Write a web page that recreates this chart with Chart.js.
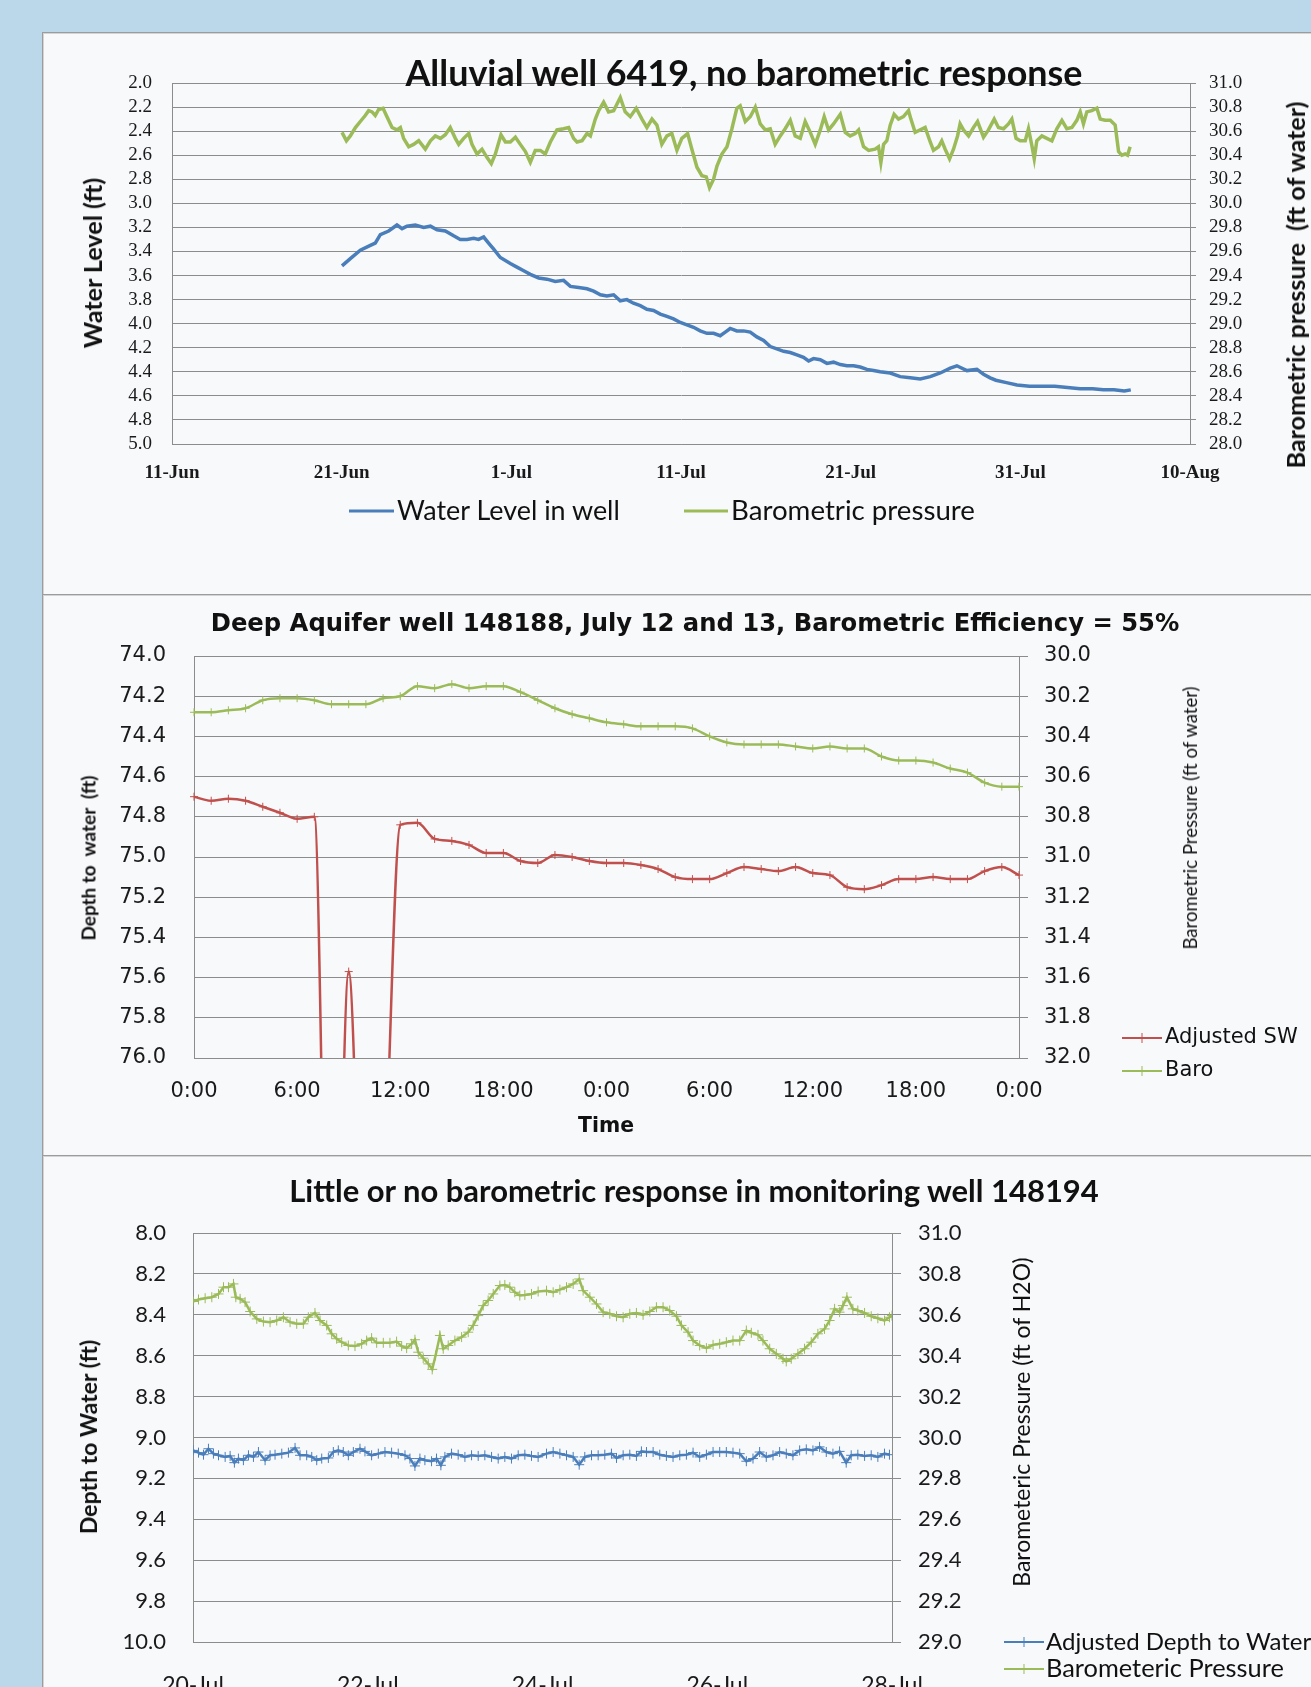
<!DOCTYPE html>
<html>
<head>
<meta charset="utf-8">
<title>Barometric response in wells</title>
<script src="https://cdn.jsdelivr.net/npm/chart.js@4.4.1/dist/chart.umd.min.js"></script>
<style>
    html, body { margin: 0; padding: 0; }
    body { width: 1311px; height: 1687px; background: #bbd8ea; position: relative; overflow: hidden; }
    .panel { position: absolute; left: 42px; width: 1300px; background: #f8f9fb; border: 1px solid #9c9c9c; box-shadow: inset 1px 1px 0 #d4d4d4; }
    canvas { position: absolute; }
    .txt { position: absolute; white-space: pre; color: #111; line-height: 1; }
    .key { position: absolute; }
</style>
</head>
<body>
<div class="panel" style="top:32px;height:561px"></div>
<div class="panel" style="top:594px;height:560px"></div>
<div class="panel" style="top:1155px;height:600px"></div>
<canvas id="chart1" width="1267" height="560" style="left:44px;top:34px"></canvas>
<canvas id="chart2" width="1267" height="561" style="left:44px;top:594px"></canvas>
<canvas id="chart3" width="1267" height="600" style="left:44px;top:1155px"></canvas>
<script>
// ---- chart 1: Alluvial well 6419 (x = days after 11-Jun) ----
var dateTicks1 = ["11-Jun", "21-Jun", "1-Jul", "11-Jul", "21-Jul", "31-Jul", "10-Aug"];
var wellDay1 = [10.02, 10.51, 11.10, 11.69, 11.98, 12.28, 12.77, 13.26, 13.56, 13.85, 14.34, 14.83, 15.23, 15.62, 16.11,
    16.60, 16.99, 17.39, 17.78, 18.07, 18.37, 18.66, 18.96, 19.35, 19.94, 20.33, 20.73, 21.12, 21.61, 22.10,
    22.59, 23.08, 23.48, 23.97, 24.46, 24.85, 25.25, 25.63, 26.03, 26.42, 26.81, 27.20, 27.60, 27.99, 28.38,
    28.78, 29.17, 29.56, 29.96, 30.35, 30.74, 31.13, 31.53, 31.92, 32.31, 32.61, 32.90, 33.29, 33.69, 34.08,
    34.47, 34.87, 35.26, 35.65, 36.05, 36.44, 36.83, 37.22, 37.52, 37.81, 38.21, 38.60, 38.99, 39.39, 39.78,
    40.17, 40.56, 40.96, 41.35, 41.74, 42.33, 42.92, 43.51, 44.10, 44.69, 45.28, 45.87, 46.26, 46.85, 47.44,
    47.83, 48.22, 48.56, 49.18, 49.80, 50.54, 51.29, 52.03, 52.78, 53.52, 54.27, 54.89, 55.52, 56.13, 56.51];
var wellLevel1 = [3.52, 3.46, 3.39, 3.35, 3.33, 3.26, 3.23, 3.18, 3.21, 3.19, 3.18, 3.20, 3.19, 3.22, 3.23,
    3.27, 3.30, 3.30, 3.29, 3.30, 3.28, 3.33, 3.38, 3.45, 3.50, 3.53, 3.56, 3.59, 3.62, 3.63,
    3.65, 3.64, 3.69, 3.70, 3.71, 3.73, 3.76, 3.77, 3.76, 3.81, 3.80, 3.83, 3.85, 3.88, 3.89,
    3.92, 3.94, 3.96, 3.99, 4.01, 4.03, 4.06, 4.08, 4.08, 4.10, 4.07, 4.04, 4.06, 4.06, 4.07,
    4.11, 4.14, 4.19, 4.21, 4.23, 4.24, 4.26, 4.28, 4.31, 4.29, 4.30, 4.33, 4.32, 4.34, 4.35,
    4.35, 4.36, 4.38, 4.39, 4.40, 4.41, 4.44, 4.45, 4.46, 4.44, 4.41, 4.37, 4.35, 4.39, 4.38,
    4.42, 4.45, 4.47, 4.49, 4.51, 4.52, 4.52, 4.52, 4.53, 4.54, 4.54, 4.55, 4.55, 4.56, 4.55];
var baroDay1 = [10.02, 10.28, 10.51, 10.81, 11.10, 11.39, 11.59, 11.79, 11.98, 12.18, 12.44, 12.67, 12.97, 13.26, 13.46,
    13.65, 13.95, 14.24, 14.54, 14.93, 15.23, 15.52, 15.82, 16.11, 16.40, 16.70, 16.90, 17.19, 17.49, 17.68,
    17.98, 18.27, 18.57, 18.82, 19.06, 19.39, 19.65, 19.94, 20.24, 20.53, 20.83, 21.12, 21.41, 21.71, 22.00,
    22.30, 22.69, 23.08, 23.38, 23.67, 23.87, 24.17, 24.46, 24.66, 24.95, 25.15, 25.44, 25.73, 26.03, 26.42,
    26.71, 27.01, 27.36, 27.70, 27.99, 28.29, 28.58, 28.87, 29.17, 29.46, 29.76, 30.05, 30.39, 30.64, 30.94,
    31.23, 31.49, 31.68, 31.92, 32.12, 32.41, 32.71, 33.00, 33.29, 33.49, 33.79, 34.08, 34.38, 34.67, 34.97,
    35.26, 35.55, 35.85, 36.14, 36.44, 36.73, 37.03, 37.32, 37.62, 37.91, 38.21, 38.44, 38.70, 38.99, 39.39,
    39.68, 39.97, 40.27, 40.47, 40.76, 41.06, 41.44, 41.64, 41.78, 41.94, 42.13, 42.33, 42.56, 42.82, 43.11,
    43.41, 43.55, 43.80, 44.10, 44.39, 44.69, 44.88, 45.18, 45.37, 45.57, 45.83, 46.06, 46.30, 46.45, 46.65,
    46.95, 47.24, 47.48, 47.83, 48.12, 48.46, 48.71, 49.01, 49.30, 49.50, 49.75, 49.99, 50.29, 50.48, 50.68,
    50.82, 50.97, 51.27, 51.56, 51.86, 52.15, 52.45, 52.74, 53.04, 53.33, 53.53, 53.72, 53.92, 54.21, 54.51,
    54.71, 55.00, 55.30, 55.59, 55.79, 55.98, 56.18, 56.32, 56.47];
var baroPress1 = [30.59, 30.52, 30.56, 30.63, 30.68, 30.73, 30.77, 30.76, 30.73, 30.78, 30.79, 30.72, 30.63, 30.61, 30.63,
    30.54, 30.47, 30.49, 30.52, 30.45, 30.52, 30.56, 30.54, 30.57, 30.63, 30.54, 30.49, 30.54, 30.58, 30.49,
    30.41, 30.45, 30.38, 30.33, 30.41, 30.57, 30.51, 30.51, 30.55, 30.49, 30.43, 30.34, 30.44, 30.44, 30.41,
    30.51, 30.61, 30.62, 30.63, 30.54, 30.51, 30.52, 30.58, 30.56, 30.70, 30.77, 30.84, 30.76, 30.77, 30.88,
    30.76, 30.72, 30.79, 30.70, 30.63, 30.70, 30.65, 30.49, 30.56, 30.58, 30.44, 30.54, 30.58, 30.45, 30.30,
    30.23, 30.22, 30.13, 30.20, 30.31, 30.41, 30.47, 30.62, 30.79, 30.81, 30.68, 30.72, 30.80, 30.66, 30.61,
    30.62, 30.49, 30.56, 30.62, 30.69, 30.56, 30.54, 30.68, 30.59, 30.49, 30.61, 30.72, 30.61, 30.66, 30.74,
    30.59, 30.56, 30.58, 30.61, 30.47, 30.44, 30.45, 30.47, 30.34, 30.49, 30.52, 30.65, 30.74, 30.70, 30.72,
    30.77, 30.70, 30.59, 30.61, 30.63, 30.51, 30.44, 30.47, 30.52, 30.45, 30.37, 30.45, 30.56, 30.66, 30.61,
    30.56, 30.63, 30.68, 30.55, 30.61, 30.70, 30.63, 30.62, 30.66, 30.70, 30.54, 30.52, 30.52, 30.62, 30.48,
    30.37, 30.52, 30.56, 30.54, 30.52, 30.62, 30.69, 30.62, 30.63, 30.69, 30.76, 30.66, 30.76, 30.77, 30.79,
    30.70, 30.69, 30.69, 30.65, 30.43, 30.40, 30.41, 30.40, 30.47];

// ---- chart 2: Deep Aquifer well 148188, hourly readings ----
var hours2 = ["0:00", "1:00", "2:00", "3:00", "4:00", "5:00", "6:00", "7:00", "8:00", "9:00", "10:00", "11:00",
    "12:00", "13:00", "14:00", "15:00", "16:00", "17:00", "18:00", "19:00", "20:00", "21:00", "22:00", "23:00",
    "0:00", "1:00", "2:00", "3:00", "4:00", "5:00", "6:00", "7:00", "8:00", "9:00", "10:00", "11:00",
    "12:00", "13:00", "14:00", "15:00", "16:00", "17:00", "18:00", "19:00", "20:00", "21:00", "22:00", "23:00", "0:00"];
var adjustedSW2 = [74.70, 74.72, 74.71, 74.72, 74.75, 74.78, 74.81, 74.80, 78.2, 75.57, 77.5, 76.8,
    74.84, 74.83, 74.91, 74.92, 74.94, 74.98, 74.98, 75.02, 75.03, 74.99, 75.00, 75.02,
    75.03, 75.03, 75.04, 75.06, 75.10, 75.11, 75.11, 75.08, 75.05, 75.06, 75.07, 75.05,
    75.08, 75.09, 75.15, 75.16, 75.14, 75.11, 75.11, 75.10, 75.11, 75.11, 75.07, 75.05, 75.09];
var baro2 = [30.28, 30.28, 30.27, 30.26, 30.22, 30.21, 30.21, 30.22, 30.24, 30.24, 30.24, 30.21,
    30.20, 30.15, 30.16, 30.14, 30.16, 30.15, 30.15, 30.18, 30.22, 30.26, 30.29, 30.31,
    30.33, 30.34, 30.35, 30.35, 30.35, 30.36, 30.40, 30.43, 30.44, 30.44, 30.44, 30.45,
    30.46, 30.45, 30.46, 30.46, 30.50, 30.52, 30.52, 30.53, 30.56, 30.58, 30.63, 30.65, 30.65];

// ---- chart 3: monitoring well 148194 (x = days after 20-Jul) ----
var dateTicks3 = ["20-Jul", "22-Jul", "24-Jul", "26-Jul", "28-Jul"];
var wellDay3 = [0, 0.063, 0.12, 0.177, 0.234, 0.292, 0.368, 0.425, 0.474, 0.52, 0.577, 0.635, 0.692, 0.749, 0.825,
    0.882, 0.939, 1.016, 1.092, 1.168, 1.225, 1.301, 1.359, 1.416, 1.473, 1.549, 1.606, 1.663, 1.72, 1.778,
    1.835, 1.911, 1.968, 2.044, 2.121, 2.197, 2.273, 2.349, 2.426, 2.483, 2.54, 2.597, 2.654, 2.73, 2.787,
    2.837, 2.883, 2.959, 3.035, 3.112, 3.188, 3.264, 3.34, 3.417, 3.493, 3.569, 3.645, 3.722, 3.798, 3.874,
    3.95, 4.046, 4.122, 4.199, 4.275, 4.351, 4.42, 4.484, 4.561, 4.637, 4.713, 4.789, 4.847, 4.923, 4.999,
    5.075, 5.132, 5.19, 5.266, 5.342, 5.418, 5.494, 5.571, 5.647, 5.723, 5.799, 5.876, 5.952, 6.028, 6.104,
    6.18, 6.257, 6.333, 6.409, 6.485, 6.561, 6.638, 6.714, 6.79, 6.866, 6.943, 7.019, 7.095, 7.171, 7.248,
    7.324, 7.4, 7.476, 7.533, 7.609, 7.686, 7.762, 7.838, 7.914, 7.971];
var wellDepth3 = [9.063, 9.074, 9.084, 9.055, 9.079, 9.087, 9.095, 9.09, 9.123, 9.103, 9.111, 9.087, 9.095, 9.071, 9.111,
    9.087, 9.084, 9.079, 9.074, 9.051, 9.087, 9.087, 9.095, 9.111, 9.103, 9.1, 9.071, 9.063, 9.071, 9.087,
    9.071, 9.055, 9.068, 9.087, 9.079, 9.071, 9.074, 9.079, 9.087, 9.103, 9.139, 9.103, 9.111, 9.116, 9.103,
    9.136, 9.095, 9.079, 9.084, 9.095, 9.087, 9.09, 9.087, 9.095, 9.103, 9.095, 9.103, 9.087, 9.084, 9.09,
    9.095, 9.079, 9.071, 9.079, 9.087, 9.095, 9.133, 9.095, 9.087, 9.087, 9.084, 9.079, 9.1, 9.087, 9.084,
    9.09, 9.068, 9.071, 9.071, 9.084, 9.09, 9.095, 9.087, 9.084, 9.074, 9.095, 9.084, 9.071, 9.071, 9.071,
    9.074, 9.079, 9.116, 9.103, 9.071, 9.095, 9.087, 9.071, 9.079, 9.087, 9.063, 9.058, 9.063, 9.046, 9.071,
    9.079, 9.068, 9.123, 9.087, 9.084, 9.09, 9.087, 9.095, 9.079, 9.084];
var baroDay3 = [0, 0.063, 0.139, 0.215, 0.292, 0.349, 0.406, 0.463, 0.49, 0.539, 0.596, 0.654, 0.73, 0.806, 0.882,
    0.958, 1.035, 1.111, 1.187, 1.263, 1.32, 1.396, 1.454, 1.53, 1.587, 1.644, 1.702, 1.778, 1.854, 1.93,
    1.987, 2.044, 2.102, 2.178, 2.254, 2.33, 2.388, 2.445, 2.502, 2.54, 2.578, 2.635, 2.693, 2.738, 2.776,
    2.826, 2.864, 2.921, 2.997, 3.074, 3.15, 3.207, 3.264, 3.321, 3.378, 3.436, 3.512, 3.569, 3.626, 3.683,
    3.74, 3.798, 3.874, 3.95, 4.046, 4.122, 4.199, 4.275, 4.351, 4.42, 4.465, 4.542, 4.618, 4.694, 4.77,
    4.847, 4.923, 4.999, 5.075, 5.151, 5.228, 5.304, 5.38, 5.456, 5.533, 5.59, 5.666, 5.723, 5.799, 5.876,
    5.952, 6.028, 6.104, 6.18, 6.257, 6.333, 6.39, 6.466, 6.523, 6.6, 6.676, 6.752, 6.79, 6.847, 6.923,
    6.999, 7.076, 7.152, 7.228, 7.286, 7.343, 7.4, 7.438, 7.484, 7.552, 7.609, 7.686, 7.762, 7.838, 7.914,
    7.971, 8.0];
var baroPress3 = [30.665, 30.675, 30.681, 30.686, 30.702, 30.735, 30.735, 30.751, 30.686, 30.678, 30.662, 30.616, 30.58, 30.567, 30.564,
    30.572, 30.588, 30.564, 30.556, 30.556, 30.588, 30.609, 30.572, 30.548, 30.507, 30.483, 30.466, 30.45, 30.447, 30.458,
    30.474, 30.486, 30.463, 30.463, 30.463, 30.469, 30.447, 30.437, 30.458, 30.478, 30.417, 30.388, 30.36, 30.333, 30.401,
    30.499, 30.434, 30.45, 30.474, 30.491, 30.515, 30.548, 30.596, 30.645, 30.67, 30.702, 30.743, 30.746, 30.735, 30.71,
    30.694, 30.697, 30.702, 30.714, 30.718, 30.71, 30.723, 30.735, 30.751, 30.775, 30.718, 30.686, 30.653, 30.613, 30.605,
    30.593, 30.588, 30.605, 30.609, 30.6, 30.616, 30.637, 30.637, 30.621, 30.593, 30.548, 30.515, 30.474, 30.45, 30.437,
    30.453, 30.458, 30.466, 30.474, 30.474, 30.523, 30.512, 30.502, 30.474, 30.434, 30.409, 30.385, 30.372, 30.385, 30.409,
    30.434, 30.466, 30.507, 30.531, 30.572, 30.629, 30.613, 30.645, 30.686, 30.629, 30.621, 30.609, 30.593, 30.583, 30.572,
    30.588, 30.596];

var BLUE = "#4a7ebb", GREEN = "#9bbb59", RED = "#c0504d", GRID = "#8c8c8c", INK = "#1a1a1a";

function pairs(xs, ys) {
    return xs.map(function (x, i) { return { x: x, y: ys[i] }; });
}
function fixWidth(w) { return function (scale) { scale.width = w; }; }
function fixHeight(h) { return function (scale) { scale.height = h; }; }
function oneDecimal(v) { return v.toFixed(1); }

var common = {
    responsive: false,
    animation: false,
    devicePixelRatio: 1,
    events: [],
    plugins: { legend: { display: false }, tooltip: { enabled: false }, title: { display: false } },
};

function leftAxis(min, max, font, pad, width) {
    return {
        type: "linear", position: "left", reverse: true, min: min, max: max,
        afterFit: fixWidth(width),
        grid: { color: GRID, lineWidth: 1, drawTicks: false },
        border: { display: true, color: GRID },
        ticks: { stepSize: 0.2, autoSkip: false, padding: pad, color: INK, font: font, callback: oneDecimal },
    };
}
function rightAxis(min, max, reverse, font, tick, pad, width) {
    return {
        type: "linear", position: "right", reverse: reverse, min: min, max: max,
        afterFit: fixWidth(width),
        grid: { drawOnChartArea: false, drawTicks: true, tickLength: tick, color: GRID },
        border: { display: true, color: GRID },
        ticks: { stepSize: 0.2, autoSkip: false, padding: pad, color: INK, font: font, callback: oneDecimal },
    };
}

// chart 1
new Chart(document.getElementById("chart1"), {
    type: "line",
    data: {
        datasets: [
            { label: "Water Level in well", data: pairs(wellDay1, wellLevel1), yAxisID: "y",
              borderColor: BLUE, borderWidth: 3.5, pointRadius: 0, tension: 0 },
            { label: "Barometric pressure", data: pairs(baroDay1, baroPress1), yAxisID: "y2",
              borderColor: GREEN, borderWidth: 3.5, pointRadius: 0, tension: 0 },
        ],
    },
    options: Object.assign({}, common, {
        layout: { padding: { left: 0, top: 49, right: 41, bottom: 110 } },
        scales: {
            x: {
                type: "linear", min: 0, max: 60, afterFit: fixHeight(40),
                grid: { display: false, drawTicks: false },
                border: { display: true, color: GRID },
                ticks: { stepSize: 10, padding: 18, color: INK, maxRotation: 0,
                         font: { family: "'Liberation Serif', serif", size: 19, weight: "bold" },
                         callback: function (v) { return dateTicks1[Math.round(v / 10)]; } },
            },
            y: leftAxis(2, 5, { family: "'Liberation Serif', serif", size: 19 }, 20, 128),
            y2: rightAxis(28, 31, false, { family: "'Liberation Serif', serif", size: 19 }, 6, 13, 80),
        },
    }),
});

// chart 2
new Chart(document.getElementById("chart2"), {
    type: "line",
    data: {
        labels: hours2,
        datasets: [
            { label: "Adjusted SW", data: adjustedSW2, yAxisID: "y",
              borderColor: RED, borderWidth: 2.5, cubicInterpolationMode: "monotone",
              pointStyle: "cross", pointRadius: 4, pointBorderWidth: 1, pointBorderColor: RED },
            { label: "Baro", data: baro2, yAxisID: "y2",
              borderColor: GREEN, borderWidth: 2.5, cubicInterpolationMode: "monotone",
              pointStyle: "cross", pointRadius: 4, pointBorderWidth: 1, pointBorderColor: GREEN },
        ],
    },
    options: Object.assign({}, common, {
        layout: { padding: { left: 0, top: 62, right: 192, bottom: 47 } },
        scales: {
            x: {
                type: "category", offset: false, afterFit: fixHeight(50),
                grid: { display: false, drawTicks: false },
                border: { display: true, color: GRID },
                ticks: { autoSkip: false, maxRotation: 0, padding: 21, color: INK,
                         font: { family: "'DejaVu Sans', sans-serif", size: 21 },
                         callback: function (v, i) { return i % 6 === 0 ? this.getLabelForValue(v) : null; } },
            },
            y: leftAxis(74, 76, { family: "'DejaVu Sans', sans-serif", size: 21 }, 28, 150),
            y2: rightAxis(30, 32, true, { family: "'DejaVu Sans', sans-serif", size: 21 }, 9, 16, 100),
        },
    }),
});

// chart 3
new Chart(document.getElementById("chart3"), {
    type: "line",
    data: {
        datasets: [
            { label: "Adjusted Depth to Water", data: pairs(wellDay3, wellDepth3), yAxisID: "y",
              borderColor: BLUE, borderWidth: 2.5, tension: 0,
              pointStyle: "cross", pointRadius: 5, pointBorderWidth: 1, pointBorderColor: BLUE },
            { label: "Barometeric Pressure", data: pairs(baroDay3, baroPress3), yAxisID: "y2",
              borderColor: GREEN, borderWidth: 2.5, tension: 0,
              pointStyle: "cross", pointRadius: 5, pointBorderWidth: 1, pointBorderColor: GREEN },
        ],
    },
    options: Object.assign({}, common, {
        layout: { padding: { left: 0, top: 78, right: 319, bottom: 53 } },
        scales: {
            x: {
                type: "linear", min: 0, max: 8, afterFit: fixHeight(60),
                grid: { display: false, drawTicks: false },
                border: { display: true, color: GRID },
                ticks: { stepSize: 2, padding: 30, color: INK, maxRotation: 0,
                         font: { family: "Lato, sans-serif", size: 23 },
                         callback: function (v) { return dateTicks3[Math.round(v / 2)]; } },
            },
            y: leftAxis(8, 10, { family: "Lato, sans-serif", size: 22 }, 27, 149),
            y2: rightAxis(29, 31, false, { family: "Lato, sans-serif", size: 22 }, 9, 17, 100),
        },
    }),
});

// ---- titles, axis titles and legends as html text ----
var measure = document.createElement("canvas").getContext("2d");
function addText(t) {
    var el = document.createElement("div");
    el.className = "txt";
    el.textContent = t.text;
    var weight = t.bold ? "bold " : "";
    var size = t.size || 20;
    if (t.fit) {
        measure.font = weight + "100px " + t.font;
        size = 100 * t.fit / measure.measureText(t.text).width;
    }
    el.style.font = weight + size.toFixed(2) + "px " + t.font;
    el.style.left = t.x + "px";
    el.style.top = t.y + "px";
    var tr = t.left ? "translate(0,-50%)" : "translate(-50%,-50%)";
    if (t.rot) tr += " rotate(" + t.rot + "deg)";
    el.style.transform = tr;
    document.body.appendChild(el);
}
function addKey(x1, x2, y, color, width, cross) {
    var w = x2 - x1;
    var svg = '<svg width="' + w + '" height="12" xmlns="http://www.w3.org/2000/svg">' +
        '<line x1="0" y1="6" x2="' + w + '" y2="6" stroke="' + color + '" stroke-width="' + width + '"/>';
    if (cross) {
        var c = w / 2;
        svg += '<line x1="' + c + '" y1="1" x2="' + c + '" y2="11" stroke="' + color + '" stroke-width="1"/>';
    }
    svg += "</svg>";
    var el = document.createElement("div");
    el.className = "key";
    el.style.left = x1 + "px";
    el.style.top = (y - 6) + "px";
    el.innerHTML = svg;
    document.body.appendChild(el);
}

var LATO = "Lato, sans-serif", DEJA = "'DejaVu Sans', sans-serif";

// chart 1
addText({ text: "Alluvial well 6419, no barometric response", font: LATO, bold: true, fit: 678, x: 744, y: 72 });
addText({ text: "Water Level (ft)", font: LATO, bold: true, fit: 171, x: 92, y: 263, rot: -90 });
addText({ text: "Barometric pressure  (ft of water)", font: LATO, bold: true, fit: 368, x: 1295, y: 285, rot: -90 });
addKey(349, 394, 509, BLUE, 3, false);
addText({ text: "Water Level in well", font: LATO, fit: 224, x: 397, y: 509, left: true });
addKey(684, 728, 509, GREEN, 3, false);
addText({ text: "Barometric pressure", font: LATO, fit: 244, x: 731, y: 509, left: true });

// chart 2
addText({ text: "Deep Aquifer well 148188, July 12 and 13, Barometric Efficiency = 55%", font: DEJA, bold: true, fit: 969, x: 695, y: 622 });
addText({ text: "Depth to  water  (ft)", font: LATO, bold: true, fit: 166, x: 88, y: 858, rot: -90 });
addText({ text: "Barometric Pressure (ft of water)", font: LATO, fit: 264, x: 1190, y: 818, rot: -90 });
addText({ text: "Time", font: DEJA, bold: true, fit: 56, x: 606, y: 1125 });
addKey(1122, 1162, 1036, RED, 2, true);
addText({ text: "Adjusted SW", font: DEJA, size: 21, x: 1165, y: 1036, left: true });
addKey(1122, 1162, 1069, GREEN, 2, true);
addText({ text: "Baro", font: DEJA, size: 21, x: 1165, y: 1069, left: true });

// chart 3
addText({ text: "Little or no barometric response in monitoring well 148194", font: LATO, bold: true, fit: 811, x: 694, y: 1190 });
addText({ text: "Depth to Water (ft)", font: LATO, bold: true, fit: 195, x: 88, y: 1437, rot: -90 });
addText({ text: "Barometeric Pressure (ft of H2O)", font: LATO, fit: 330, x: 1021, y: 1422, rot: -90 });
addKey(1004, 1044, 1640, BLUE, 2, true);
addText({ text: "Adjusted Depth to Water", font: LATO, size: 24, x: 1046, y: 1640, left: true });
addKey(1004, 1044, 1667, GREEN, 2, true);
addText({ text: "Barometeric Pressure", font: LATO, fit: 238, x: 1046, y: 1667, left: true });
</script>
</body>
</html>
